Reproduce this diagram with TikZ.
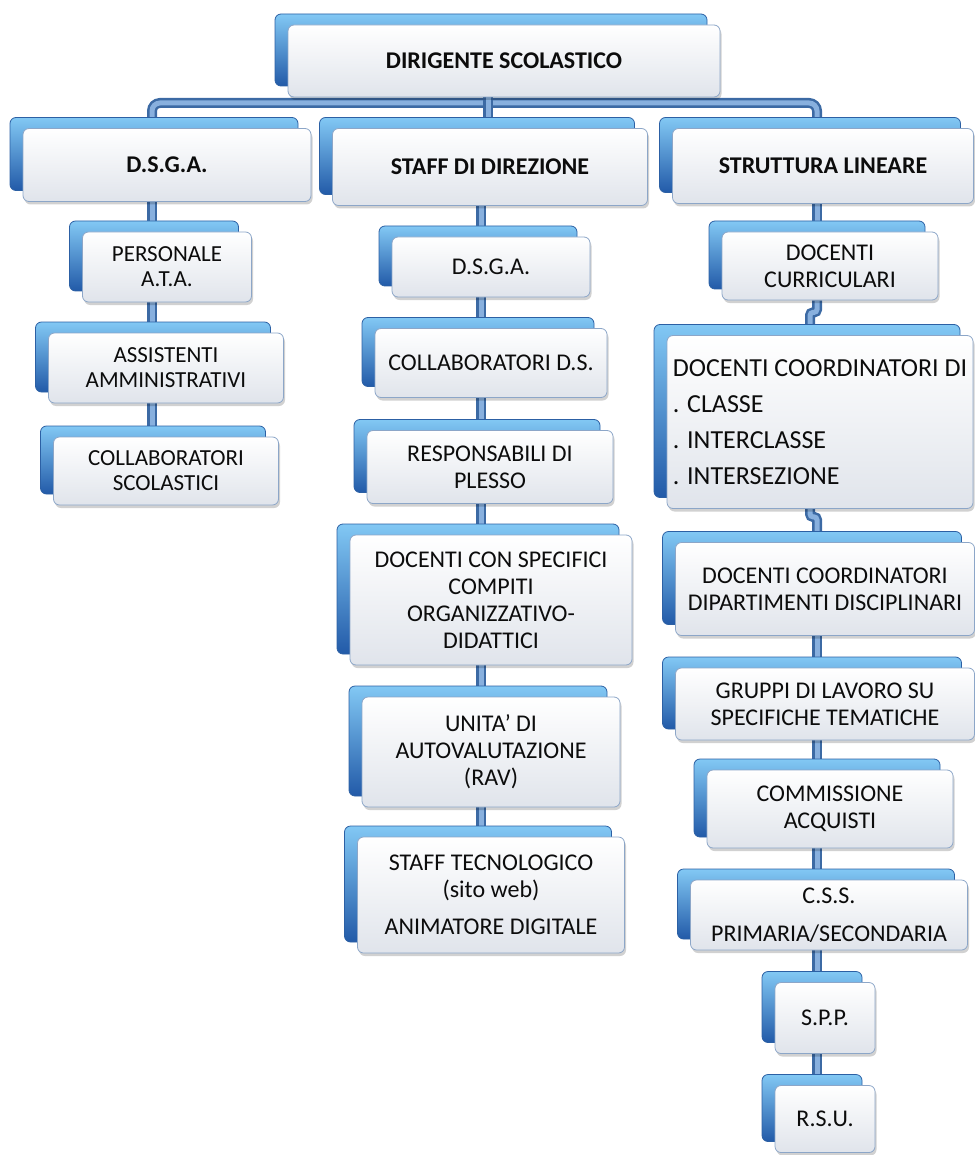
\documentclass[tikz,border=0pt]{standalone}
\usepackage{fontspec}
\setmainfont{Carlito}
\usetikzlibrary{backgrounds}

\definecolor{backtop}{RGB}{130,200,244}
\definecolor{backbot}{RGB}{34,90,168}
\definecolor{backline}{RGB}{44,96,164}
\definecolor{facebot}{RGB}{224,228,235}
\definecolor{faceline}{RGB}{140,166,200}
\definecolor{linkdark}{RGB}{60,106,164}
\definecolor{linklight}{RGB}{136,176,222}
\definecolor{ink}{RGB}{12,12,12}

\tikzset{
  box/.style={rounded corners=6pt, draw=faceline, line width=0.8pt,
    top color=white, bottom color=facebot, text=ink, align=center,
    inner sep=3pt, font=\fontsize{24pt}{27pt}\selectfont,
    preaction={draw=backline, top color=backtop, bottom color=backbot,
      transform canvas={shift={(-13pt,11pt)}}},
    preaction={fill=black, opacity=0.18,
      transform canvas={shift={(1.5pt,-3pt)}}}},
  headbox/.style={font=\fontsize{24pt}{27pt}\selectfont\bfseries},
  smalltext/.style={font=\fontsize{23pt}{25pt}\selectfont},
  bigtext/.style={font=\fontsize{26pt}{30pt}\selectfont, align=left},
  boxsize/.style 2 args={minimum width=#1pt, minimum height=#2pt},
  link/.style={draw=linkdark, double=linklight, line width=2.5pt,
    double distance=5pt}
}

\begin{document}
\begin{tikzpicture}[x=1pt, y=-1pt]
  \useasboundingbox (0,0) rectangle (974,1155);
  \coordinate (c1) at (152,0);
  \coordinate (c2) at (481,0);
  \coordinate (c3) at (817,0);
  \coordinate (c3j) at (810,0);
  \coordinate (bar) at (488,103);

  \node[box, headbox, boxsize={432}{72}] (ds) at (504,61) {DIRIGENTE SCOLASTICO};
  \node[box, headbox, boxsize={288}{73}] (dsga) at (167,165) {D.S.G.A.};
  \node[box, headbox, boxsize={315}{77}] (staff) at (490,167) {STAFF DI DIREZIONE};
  \node[box, headbox, boxsize={301}{75}] (strutt) at (823,166) {STRUTTURA LINEARE};

  \node[box, smalltext, boxsize={169}{70}] (ata) at (167,267) {PERSONALE\\A.T.A.};
  \node[box, smalltext, boxsize={235}{70}] (amm) at (166,368) {ASSISTENTI\\AMMINISTRATIVI};
  \node[box, smalltext, boxsize={225}{68}] (colsc) at (166,471) {COLLABORATORI\\SCOLASTICI};

  \node[box, boxsize={198}{60}] (dsga2) at (491,267) {D.S.G.A.};
  \node[box, boxsize={232}{69}] (collds) at (491,363) {COLLABORATORI D.S.};
  \node[box, boxsize={246}{73}] (resp) at (490,467) {RESPONSABILI DI\\PLESSO};
  \node[box, boxsize={282}{130}] (docspec) at (491,600)
    {DOCENTI CON SPECIFICI\\COMPITI\\ORGANIZZATIVO-\\DIDATTICI};
  \node[box, boxsize={258}{110}] (rav) at (491,752) {UNITA' DI\\AUTOVALUTAZIONE\\(RAV)};
  \node[box, boxsize={267}{116}] (tecn) at (491,895)
    {STAFF TECNOLOGICO\\(sito web)\\[10pt]ANIMATORE DIGITALE};

  \node[box, boxsize={216}{68}] (curr) at (830,266) {DOCENTI\\CURRICULARI};
  \node[box, bigtext, boxsize={306}{173}] (coord) at (820,422)
    {DOCENTI COORDINATORI DI\\[6pt]. CLASSE\\[6pt]. INTERCLASSE\\[6pt]. INTERSEZIONE};
  \node[box, boxsize={299}{93}] (dip) at (825,589) {DOCENTI COORDINATORI\\DIPARTIMENTI DISCIPLINARI};
  \node[box, boxsize={299}{72}] (grup) at (825,704) {GRUPPI DI LAVORO SU\\SPECIFICHE TEMATICHE};
  \node[box, boxsize={246}{78}] (comm) at (830,809) {COMMISSIONE\\ACQUISTI};
  \node[box, boxsize={277}{70}] (css) at (829,915) {C.S.S.\\[11pt]PRIMARIA/SECONDARIA};
  \node[box, boxsize={100}{71}] (spp) at (825,1018) {S.P.P.};
  \node[box, boxsize={100}{67}] (rsu) at (825,1119) {R.S.U.};

  \begin{scope}[on background layer]
    \draw[link, rounded corners=8pt] (dsga.north -| c1) |- (bar) -| (strutt.north -| c3);
    \draw[link] (ds.south -| bar) -- (staff.north -| bar);

    \draw[link] (dsga.south -| c1) -- (ata.north -| c1);
    \draw[link] (ata.south -| c1) -- (amm.north -| c1);
    \draw[link] (amm.south -| c1) -- (colsc.north -| c1);

    \draw[link] (staff.south -| c2) -- (dsga2.north -| c2);
    \draw[link] (dsga2.south -| c2) -- (collds.north -| c2);
    \draw[link] (collds.south -| c2) -- (resp.north -| c2);
    \draw[link] (resp.south -| c2) -- (docspec.north -| c2);
    \draw[link] (docspec.south -| c2) -- (rav.north -| c2);
    \draw[link] (rav.south -| c2) -- (tecn.north -| c2);

    \draw[link] (strutt.south -| c3) -- (curr.north -| c3);
    \draw[link, rounded corners=3pt] (curr.south -| c3) -- ++(0,12) -| (coord.north -| c3j);
    \draw[link, rounded corners=3pt] (coord.south -| c3j) -- ++(0,8) -| (dip.north -| c3);
    \draw[link] (dip.south -| c3) -- (grup.north -| c3);
    \draw[link] (grup.south -| c3) -- (comm.north -| c3);
    \draw[link] (comm.south -| c3) -- (css.north -| c3);
    \draw[link] (css.south -| c3) -- (spp.north -| c3);
    \draw[link] (spp.south -| c3) -- (rsu.north -| c3);
  \end{scope}
\end{tikzpicture}
\end{document}
